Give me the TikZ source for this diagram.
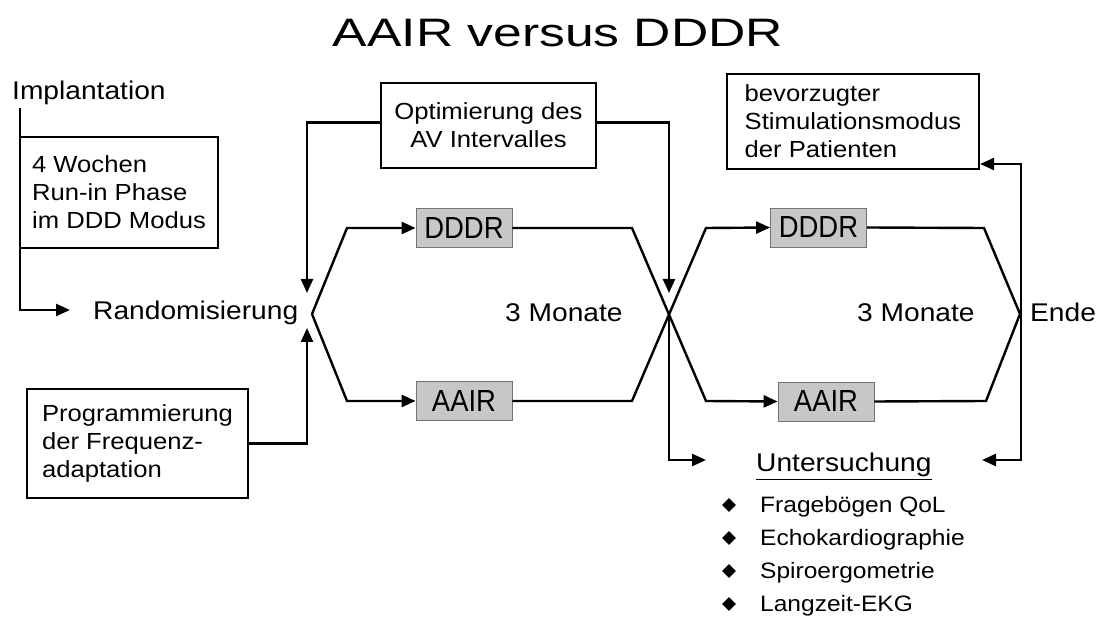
\documentclass[tikz,border=0pt]{standalone}
\usepackage{fontspec}
\setmainfont{Liberation Sans}[FakeStretch=1.1]
\newfontfamily\titlefont{Liberation Sans}[FakeStretch=1.3]
\newfontfamily\modefont{Liberation Sans}[FakeStretch=0.9]
\usetikzlibrary{arrows.meta,shapes.geometric,calc}
\tikzset{
  conn/.style={line width=2.4pt, line join=miter},
  arr/.style={conn, -{Triangle[length=14pt,width=12pt]}},
  darr/.style={conn, {Triangle[length=14pt,width=12pt]}-{Triangle[length=14pt,width=12pt]}},
  textbox/.style={draw, line width=2.2pt, align=left, inner xsep=0pt, inner ysep=0pt,
    font=\fontsize{23.3}{28}\selectfont},
  modebox/.style={draw=black!55, line width=0.8pt, fill=black!22, minimum width=96pt,
    minimum height=39pt, inner sep=0pt, font=\modefont\fontsize{30.5}{32}\selectfont},
  lbl/.style={inner sep=0pt, font=\fontsize{25.6}{28}\selectfont},
  itemtxt/.style={inner sep=0pt, font=\fontsize{22.3}{26}\selectfont},
  bullet/.style={diamond, fill=black, inner sep=0pt, minimum size=14pt},
}
\begin{document}
\begin{tikzpicture}[x=1pt,y=-1pt]
\useasboundingbox (0,0) rectangle (1104,617);
\fill[white] (0,0) rectangle (1104,617);

% title
\node[anchor=base, inner sep=0pt, font=\titlefont\fontsize{39.7}{40}\selectfont] (title) at (558,47) {AAIR versus DDDR};

% labels
\node[lbl, anchor=base west] (impl) at (12,100) {Implantation};
\node[lbl, anchor=base west] (rand) at (93,320) {Randomisierung};
\node[lbl, anchor=base west] (mon1) at (505,322) {3 Monate};
\node[lbl, anchor=base west] (mon2) at (857,322) {3 Monate};
\node[lbl, anchor=base west] (ende) at (1030,322) {Ende};

% text boxes
\node[textbox, minimum width=198pt, minimum height=111pt] (woch) at (119,192.5)
  {4 Wochen\\Run-in Phase\\im DDD Modus};
\node[textbox, align=center, minimum width=215pt, minimum height=85pt] (optim) at (488.5,125.5)
  {Optimierung des\\AV Intervalles};
\node[textbox, minimum width=221pt, minimum height=109pt] (prog) at (137.5,443.5)
  {Programmierung\\der Frequenz-\\adaptation};
\node[textbox, minimum width=252pt, minimum height=95pt] (bevor) at (853,121.5)
  {bevorzugter\\Stimulationsmodus\\der Patienten};

% mode boxes
\node[modebox] (d1) at (464,228) {DDDR};
\node[modebox] (a1) at (464,401) {AAIR};
\node[modebox] (d2) at (818.5,227.5) {DDDR};
\node[modebox] (a2) at (826,401.5) {AAIR};

% coordinates
\coordinate (rp) at (312,314);
\coordinate (ul1) at (347,228);
\coordinate (ll1) at (347,401);
\coordinate (ur1) at (632,228);
\coordinate (lr1) at (632,401);
\coordinate (C) at (669,314.5);
\coordinate (ul2) at (706,228);
\coordinate (ll2) at (706,401);
\coordinate (ur2) at (984,228);
\coordinate (lr2) at (986,401);
\coordinate (E) at (1020,314);
\coordinate (i0) at (20,108);
\coordinate (rin) at (70,310);
\coordinate (o1) at (307,293);
\coordinate (o2) at (669,293);
\coordinate (p1) at (307,328);
\coordinate (u1) at (706,460);
\coordinate (u2) at (982,460);
\coordinate (v1) at (1021,164);

% connectors
\draw[arr] (i0) |- (rin);
\draw[arr] (rp) -- (ul1) -- (d1.west);
\draw[arr] (rp) -- (ll1) -- (a1.west);
\draw[arr] (d1.east) -- (ur1) -- (ll2) -- (a2.west);
\draw[arr] (a1.east) -- (lr1) -- (ul2) -- (d2.west);
\draw[conn] (d2.east) -- (ur2) -- (E) -- (lr2) -- (a2.east);
\draw[arr] ([yshift=3pt]optim.west) -| (o1);
\draw[arr] ([yshift=3pt]optim.east) -| (o2);
\draw[arr] (prog.east) -| (p1);
\draw[arr] (C) |- (u1);
\draw[darr] (u2) -| (v1) -- (bevor.east |- v1);

% Untersuchung
\node[lbl, anchor=base west] (unt) at (756,472) {\underline{Untersuchung}};
\node[bullet] (b1) at (729,505) {};
\node[bullet] (b2) at (729,538) {};
\node[bullet] (b3) at (729,571) {};
\node[bullet] (b4) at (729,604) {};
\node[itemtxt, anchor=base west] (t1) at (760,513) {Fragebögen QoL};
\node[itemtxt, anchor=base west] (t2) at (760,546) {Echokardiographie};
\node[itemtxt, anchor=base west] (t3) at (760,579) {Spiroergometrie};
\node[itemtxt, anchor=base west] (t4) at (760,611) {Langzeit-EKG};
\end{tikzpicture}
\end{document}
